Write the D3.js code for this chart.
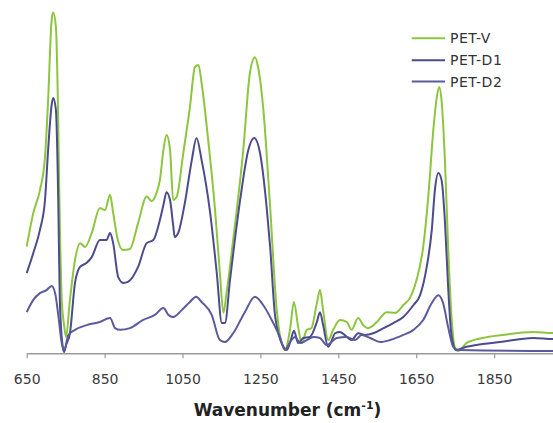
<!DOCTYPE html>
<html>
<head>
<meta charset="utf-8">
<script src="https://cdn.jsdelivr.net/npm/d3@7/dist/d3.min.js"></script>
<style>
  html, body { margin: 0; padding: 0; background: #fff; }
  svg { display: block; }
</style>
</head>
<body>
<svg id="chart" width="553" height="423"></svg>
<script>
// ---- Data (wavenumber in cm-1, absorbance in arbitrary units) ----
const seriesNames = ["PET-V", "PET-D1", "PET-D2"];
const xTicks = [650, 850, 1050, 1250, 1450, 1650, 1850];

const pvWave = [650,667,684,697,705,714,718,725,730,734,740,746,751,761,774,787,800,817,838,851,864,872,884,897,915,936,958,971,984,992,1001,1009,1018,1026,1035,1052,1069,1082,1091,1099,1116,1133,1146,1155,1163,1180,1206,1223,1236,1244,1257,1275,1292,1313,1326,1336,1347,1356,1369,1381,1395,1403,1411,1424,1437,1454,1472,1484,1501,1514,1527,1549,1574,1596,1617,1634,1651,1668,1681,1694,1703,1709,1715,1724,1732,1740,1749,1757,1779,1821,1872,1950,2001,2010];
const pvAbs  = [31.4,41.3,48.0,57.7,74.5,98.0,100.2,96.0,74.5,45.1,15.7,8.3,4.8,15.7,27.4,32.4,31.3,35.4,42.7,42.1,46.6,41.3,33.3,30.4,30.7,38.3,46.1,44.8,47.4,51.0,59.8,64.2,59.8,45.1,46.0,58.9,72.4,84.2,84.8,79.5,62.7,43.0,23.6,11.9,17.7,33.3,59.8,82.4,87.1,84.2,72.4,43.0,12.7,1.0,6.9,15.1,7.7,3.0,6.9,7.4,14.8,18.6,12.7,3.9,6.9,9.8,9.2,6.9,10.4,8.3,7.4,9.2,12.1,11.9,14.2,16.3,21.6,31.3,46.0,65.7,75.4,78.3,74.5,56.0,31.3,11.9,1.9,0.7,3.0,4.5,5.4,6.3,6.0,6.0];

const pd1Wave = [650,667,684,697,705,714,718,725,731,735,742,746,751,761,774,787,804,817,838,855,864,872,885,898,910,936,958,975,992,1001,1009,1018,1026,1030,1039,1056,1074,1086,1099,1121,1138,1151,1159,1172,1198,1219,1234,1249,1266,1275,1288,1309,1318,1328,1336,1347,1360,1377,1395,1403,1411,1424,1442,1454,1472,1484,1501,1519,1540,1566,1591,1617,1643,1660,1677,1690,1698,1707,1715,1724,1732,1740,1752,1779,1865,1951,2001,2010];
const pd1Abs  = [23.6,29.5,36.3,45.1,59.8,73.0,75.1,71.6,45.1,15.7,2.4,0.4,2.4,5.9,20.7,25.4,26.6,28.3,33.3,33.3,35.4,32.4,22.4,20.7,21.0,25.4,32.4,33.3,39.2,43.6,47.4,45.1,37.7,34.2,35.4,44.2,56.9,63.3,56.9,41.3,23.6,8.9,8.9,21.6,45.1,59.8,63.3,58.9,43.0,31.3,10.7,1.9,1.0,3.9,6.6,3.0,4.5,4.8,9.2,12.1,8.3,1.9,5.9,6.3,4.8,3.9,5.9,5.4,5.9,7.4,8.9,10.7,14.2,17.1,25.4,36.3,48.0,53.0,51.0,38.3,19.5,5.9,1.0,1.9,3.3,4.5,4.2,4.2];

const pd2Wave = [650,667,684,701,714,723,731,740,746,757,774,804,838,864,877,890,915,949,979,1001,1014,1026,1048,1069,1085,1099,1125,1146,1159,1180,1210,1236,1257,1279,1300,1313,1326,1339,1352,1369,1386,1403,1420,1446,1472,1493,1510,1532,1557,1583,1617,1643,1668,1690,1707,1719,1732,1745,1757,2001,2010];
const pd2Abs  = [12.1,15.7,17.7,18.6,19.8,17.7,11.3,3.0,0.7,5.4,6.9,8.3,9.2,10.4,7.4,6.9,7.4,9.8,11.3,13.3,11.3,10.7,12.7,15.1,16.6,15.1,11.3,3.9,3.3,5.9,12.1,16.6,14.2,9.8,4.8,1.0,3.3,4.8,3.0,3.9,4.8,4.5,2.4,4.5,4.8,3.9,5.4,4.5,3.3,3.9,5.4,6.9,9.8,14.8,17.1,14.8,7.7,1.9,1.0,0.7,0.7];

const colors = ["#8cc63f", "#4b4b8d", "#5a5a9c"];

// ---- Build ----
const series = [
  {name: seriesNames[0], pts: pvWave.map((w, i) => [w, pvAbs[i]]), color: colors[0]},
  {name: seriesNames[1], pts: pd1Wave.map((w, i) => [w, pd1Abs[i]]), color: colors[1]},
  {name: seriesNames[2], pts: pd2Wave.map((w, i) => [w, pd2Abs[i]]), color: colors[2]}
];

const svg = d3.select("#chart");
const x = d3.scaleLinear().domain([650, 2050]).range([26.7, 572]);
const y = d3.scaleLinear().domain([0, 100]).range([353.3, 13.3]);

const line = d3.line()
  .x(d => x(d[0]))
  .y(d => y(d[1]))
  .curve(d3.curveMonotoneX);

// axis
const axis = d3.axisBottom(x).tickValues(xTicks).tickFormat(d3.format("d"))
  .tickSize(5).tickPadding(15.5).tickSizeOuter(0);
const gx = svg.append("g").attr("transform", "translate(0,353.3)").call(axis);
gx.select(".domain").attr("stroke", "#9a9a9a").attr("stroke-width", 1.5);
gx.selectAll(".tick line").attr("stroke", "#9a9a9a").attr("stroke-width", 1.2);
gx.selectAll(".tick text")
  .attr("fill", "#3a3a3a")
  .style("font-family", "'DejaVu Sans', Verdana, sans-serif")
  .style("font-size", "14px");

// lines
svg.append("g").selectAll("path")
  .data(series)
  .join("path")
  .attr("d", d => line(d.pts))
  .attr("fill", "none")
  .attr("stroke", d => d.color)
  .attr("stroke-width", 2)
  .attr("stroke-linejoin", "round");

// axis title
const title = svg.append("text")
  .attr("x", 287.5)
  .attr("y", 416)
  .attr("text-anchor", "middle")
  .attr("fill", "#222")
  .style("font-family", "'DejaVu Sans', Verdana, sans-serif")
  .style("font-size", "17px")
  .style("font-weight", "bold");
title.append("tspan").text("Wavenumber (cm");
title.append("tspan").attr("dy", -7).style("font-size", "11px").text("-1");
title.append("tspan").attr("dy", 7).text(")");

// legend
const legY = [38.3, 60.3, 81.5];
const leg = svg.append("g").selectAll("g")
  .data(series)
  .join("g")
  .attr("transform", (d, i) => `translate(0,${legY[i]})`);
leg.append("line")
  .attr("x1", 411.7).attr("x2", 445)
  .attr("y1", 0).attr("y2", 0)
  .attr("stroke", d => d.color)
  .attr("stroke-width", 2);
leg.append("text")
  .attr("x", 450)
  .attr("y", 5)
  .attr("fill", "#333")
  .style("font-family", "'DejaVu Sans', Verdana, sans-serif")
  .style("font-size", "14px")
  .style("letter-spacing", "0.5px")
  .text(d => d.name);
</script>
</body>
</html>
